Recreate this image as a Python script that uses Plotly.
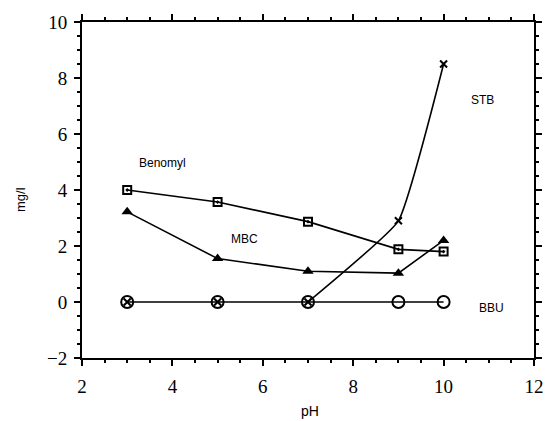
import plotly.graph_objects as go

ph = [3, 5, 7, 9, 10]
benomyl = [4.0, 3.57, 2.87, 1.88, 1.8]
mbc = [3.22, 1.55, 1.1, 1.03, 2.2]
bbu = [0, 0, 0, 0, 0]
stb = [0, 0, 0, 2.9, 8.5]

label_text = ["Benomyl", "MBC", "STB", "BBU"]
label_x = [3.78, 5.6, 10.85, 11.07]
label_y = [4.95, 2.25, 7.2, -0.2]

fig = go.Figure()
line = dict(color="black", width=1.6)

# BBU
fig.add_trace(go.Scatter(x=ph, y=bbu, mode="lines+markers", line=line,
                         marker=dict(symbol="circle-open", size=12, color="black",
                                     line=dict(width=2, color="black")),
                         showlegend=False))
# STB: straight part shares BBU line, curved rise after pH 7
fig.add_trace(go.Scatter(x=ph[2:], y=stb[2:], mode="lines",
                         line=dict(color="black", width=1.6, shape="spline", smoothing=0.35),
                         showlegend=False))
fig.add_trace(go.Scatter(x=ph, y=stb, mode="markers",
                         marker=dict(symbol="x-thin-open", size=7, color="black",
                                     line=dict(width=2, color="black")),
                         showlegend=False))
# Benomyl
fig.add_trace(go.Scatter(x=ph, y=benomyl, mode="lines+markers", line=line,
                         marker=dict(symbol="square-open-dot", size=8, color="black",
                                     line=dict(width=2, color="black")),
                         showlegend=False))
# MBC
fig.add_trace(go.Scatter(x=ph, y=mbc, mode="lines+markers", line=line,
                         marker=dict(symbol="triangle-up", size=10, color="black"),
                         showlegend=False))

for t, x, y in zip(label_text, label_x, label_y):
    fig.add_annotation(x=x, y=y, text=t, showarrow=False,
                       font=dict(family="Liberation Sans", size=12, color="black"))

# axis titles
fig.add_annotation(xref="paper", yref="paper", x=0.5, y=0, yshift=-53, xshift=2,
                   text="pH", showarrow=False, yanchor="middle",
                   font=dict(family="Liberation Sans", size=14, color="black"))
fig.add_annotation(xref="paper", yref="paper", x=0, y=0.5, xshift=-62, yshift=-10,
                   text="mg/l", showarrow=False, textangle=-90, xanchor="center",
                   font=dict(family="Liberation Sans", size=13, color="black"))

axis_common = dict(showgrid=False, zeroline=False, showline=True, linecolor="black", linewidth=2,
                   mirror="allticks", ticks="outside", ticklen=6, tickwidth=2, tickcolor="black",
                   tickfont=dict(family="Liberation Serif", size=19, color="black"))

fig.update_xaxes(range=[2, 12], dtick=2, tick0=2, ticklabelstandoff=4,
                 minor=dict(dtick=0.5, ticks="outside", ticklen=3, tickwidth=1.5, tickcolor="black"),
                 **axis_common)
fig.update_yaxes(range=[-2, 10], dtick=2, tick0=-2, ticklabelstandoff=3,
                 minor=dict(dtick=0.5, ticks="outside", ticklen=3, tickwidth=1.5, tickcolor="black"),
                 **axis_common)

fig.update_layout(width=556, height=421, margin=dict(l=82, r=13, t=20, b=63),
                  plot_bgcolor="white", paper_bgcolor="white")

fig.write_html("out.html")
